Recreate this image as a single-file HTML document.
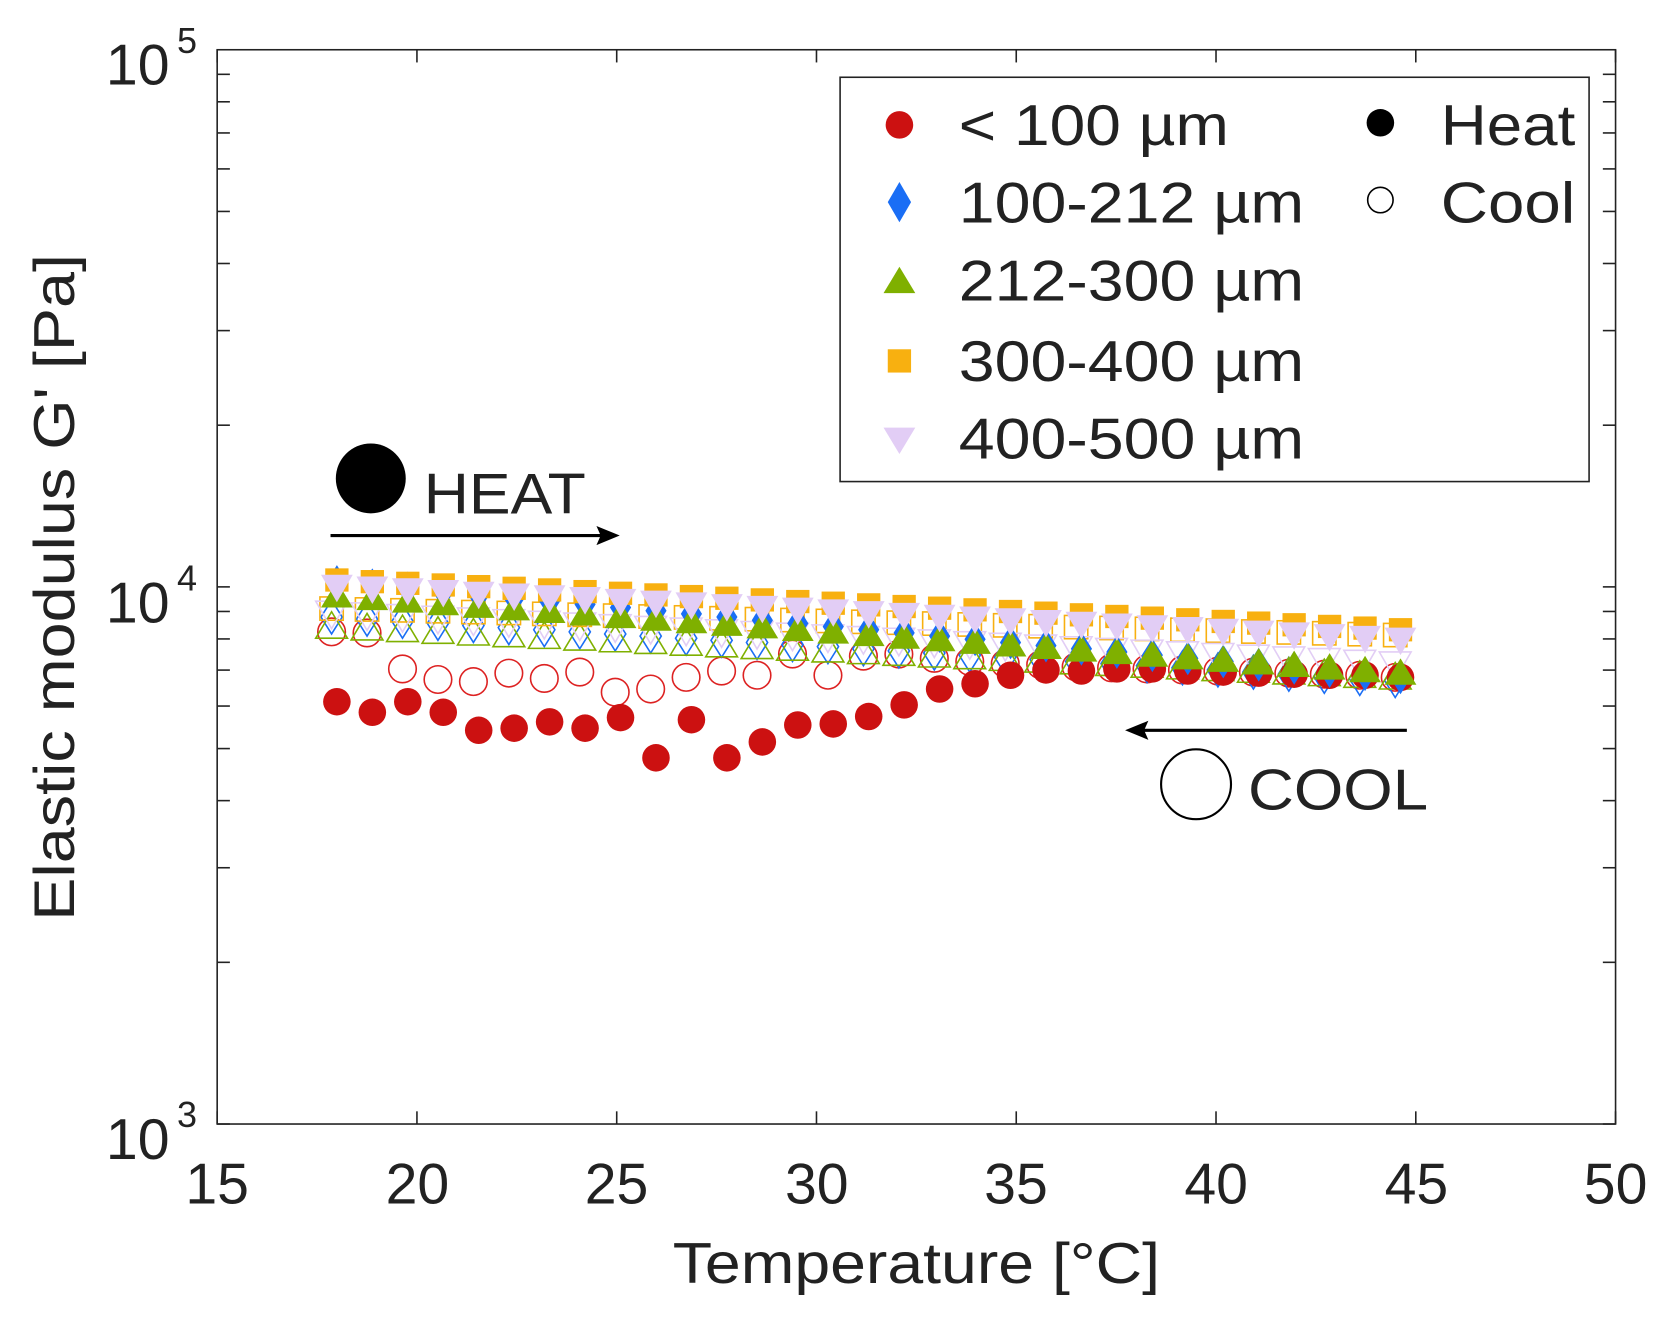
<!DOCTYPE html>
<html><head><meta charset="utf-8"><style>
html,body{margin:0;padding:0;background:#fff;overflow:hidden}
svg{display:block}
text{font-family:"Liberation Sans",sans-serif;fill:#222}
</style></head><body>
<svg id="s" width="1659" height="1323" viewBox="0 0 1566 1250" preserveAspectRatio="none" xmlns="http://www.w3.org/2000/svg">
<rect x="0" y="0" width="1566" height="1250" fill="#fff"/>
<g id="data"></g>
<rect x="205" y="47" width="1320" height="1015" fill="none" stroke="#222" stroke-width="1.5"/>
<g id="ticks" stroke="#222" stroke-width="1.5"></g>
<g font-size="54" text-anchor="middle">
<text x="205" y="1137">15</text><text x="394" y="1137">20</text><text x="582" y="1137">25</text><text x="771" y="1137">30</text><text x="959" y="1137">35</text><text x="1148" y="1137">40</text><text x="1337" y="1137">45</text><text x="1525" y="1137">50</text>
</g>
<g font-size="54" text-anchor="end">
<text x="160" y="80">10</text><text x="186" y="50" font-size="34">5</text>
<text x="160" y="588">10</text><text x="186" y="558" font-size="34">4</text>
<text x="160" y="1095">10</text><text x="186" y="1065" font-size="34">3</text>
</g>
<text x="635" y="1212" font-size="54" textLength="460" lengthAdjust="spacingAndGlyphs">Temperature [°C]</text>
<text transform="translate(70,870) rotate(-90)" font-size="54" textLength="630" lengthAdjust="spacingAndGlyphs">Elastic modulus G' [Pa]</text>
<circle cx="350" cy="452" r="33" fill="#000"/>
<text x="400" y="485" font-size="54" textLength="153" lengthAdjust="spacingAndGlyphs">HEAT</text>
<line x1="312" y1="506" x2="572" y2="506" stroke="#000" stroke-width="3"/>
<path d="M585,506 L563,497 L567,506 L563,515 Z" fill="#000"/>
<line x1="1328" y1="690" x2="1075" y2="690" stroke="#000" stroke-width="3"/>
<path d="M1062,690 L1084,681 L1080,690 L1084,699 Z" fill="#000"/>
<circle cx="1129" cy="741" r="33" fill="none" stroke="#000" stroke-width="2"/>
<text x="1178" y="765" font-size="54" textLength="170" lengthAdjust="spacingAndGlyphs">COOL</text>
<rect x="793" y="73" width="707" height="382" fill="#fff" stroke="#222" stroke-width="1.5"/>
<g font-size="54">
<text x="905" y="137" textLength="255" lengthAdjust="spacingAndGlyphs">&lt; 100 µm</text>
<text x="905" y="210" textLength="326" lengthAdjust="spacingAndGlyphs">100-212 µm</text>
<text x="905" y="284" textLength="326" lengthAdjust="spacingAndGlyphs">212-300 µm</text>
<text x="905" y="360" textLength="326" lengthAdjust="spacingAndGlyphs">300-400 µm</text>
<text x="905" y="433" textLength="326" lengthAdjust="spacingAndGlyphs">400-500 µm</text>
<text x="1360" y="137" textLength="127" lengthAdjust="spacingAndGlyphs">Heat</text>
<text x="1360" y="210" textLength="127" lengthAdjust="spacingAndGlyphs">Cool</text>
</g>
<circle cx="849" cy="118" r="13" fill="#cc1111"/>
<path d="M849,172 L860,191 L849,210 L838,191 Z" fill="#1a6ef5"/>
<path d="M849,252 L864,277 L834,277 Z" fill="#7fb000"/>
<rect x="838" y="330" width="22" height="22" fill="#f8b010"/>
<path d="M834,404 L864,404 L849,429 Z" fill="#e2cdf5"/>
<circle cx="1303" cy="116" r="13" fill="#000"/>
<circle cx="1303" cy="189" r="12" fill="none" stroke="#000" stroke-width="1.5"/>
</svg>
<script>
var NS="http://www.w3.org/2000/svg",g=document.getElementById('data'),tk=document.getElementById('ticks');
function el(t,a,p){var e=document.createElementNS(NS,t);for(var k in a)e.setAttribute(k,a[k]);(p||g).appendChild(e);return e;}
for(var i=0;i<8;i++){var x=205+i*188.57;el('line',{x1:x,y1:1062,x2:x,y2:1050},tk);el('line',{x1:x,y1:47,x2:x,y2:59},tk);}
for(var d=0;d<2;d++)for(var m=1;m<10;m++){var y=1062-507.5*(d+Math.log10(m));el('line',{x1:205,y1:y,x2:217,y2:y},tk);el('line',{x1:1525,y1:y,x2:1513,y2:y},tk);}
var N=31,x0=318,x1=1322;function X(i){return x0+(x1-x0)*i/(N-1);}
function lin(a,b){var r=[];for(var i=0;i<N;i++)r.push(a+(b-a)*i/(N-1));return r;}
function mk(type,x,y,col,filled){var r=13,f=filled?col:'none',s=filled?'none':col,sw=filled?0:1.5;
 if(type=='c')el('circle',{cx:x,cy:y,r:r,fill:f,stroke:s,'stroke-width':sw});
 else if(type=='d')el('path',{d:'M'+x+','+(y-16)+' L'+(x+10)+','+y+' L'+x+','+(y+16)+' L'+(x-10)+','+y+'Z',fill:f,stroke:s,'stroke-width':sw});
 else if(type=='t')el('path',{d:'M'+x+','+(y-14)+' L'+(x+15)+','+(y+11)+' L'+(x-15)+','+(y+11)+'Z',fill:f,stroke:s,'stroke-width':sw});
 else if(type=='s')el('rect',{x:x-11,y:y-11,width:22,height:22,fill:f,stroke:s,'stroke-width':sw});
 else if(type=='v')el('path',{d:'M'+(x-15)+','+(y-12)+' L'+(x+15)+','+(y-12)+' L'+x+','+(y+14)+'Z',fill:f,stroke:s,'stroke-width':sw});}
var redH=[663,673,663,673,690,688,682,688,678,716,680,716,701,685,684,677,666,651,646,638,633,634,632,632,634,635,636,637,638,638,640];
var redC=[597,598,632,642,644,636,641,635,654,651,640,634,638,618,638,620,618,622,625,627,628,630,631,632,633,634,635,636,637,638,640];
var S=[
 ['d','#1a6ef5',lin(550,640),lin(583,643)],
 ['t','#7fb000',lin(563,636),lin(592,640)],
 ['s','#f8b010',lin(548,595),lin(575,600)],
 ['v','#e2cdf5',lin(555,605),lin(580,628)]];
for(var i=0;i<N;i++)mk('c',X(i)-5,redC[i],'#dd2222',false);
S.forEach(function(s){for(var i=0;i<N;i++)mk(s[0],X(i)-5,s[3][i],s[1],false);});
for(var i=0;i<N;i++)mk('c',X(i),redH[i],'#cc1111',true);
S.forEach(function(s){for(var i=0;i<N;i++)mk(s[0],X(i),s[2][i],s[1],true);});
</script>
</body></html>
